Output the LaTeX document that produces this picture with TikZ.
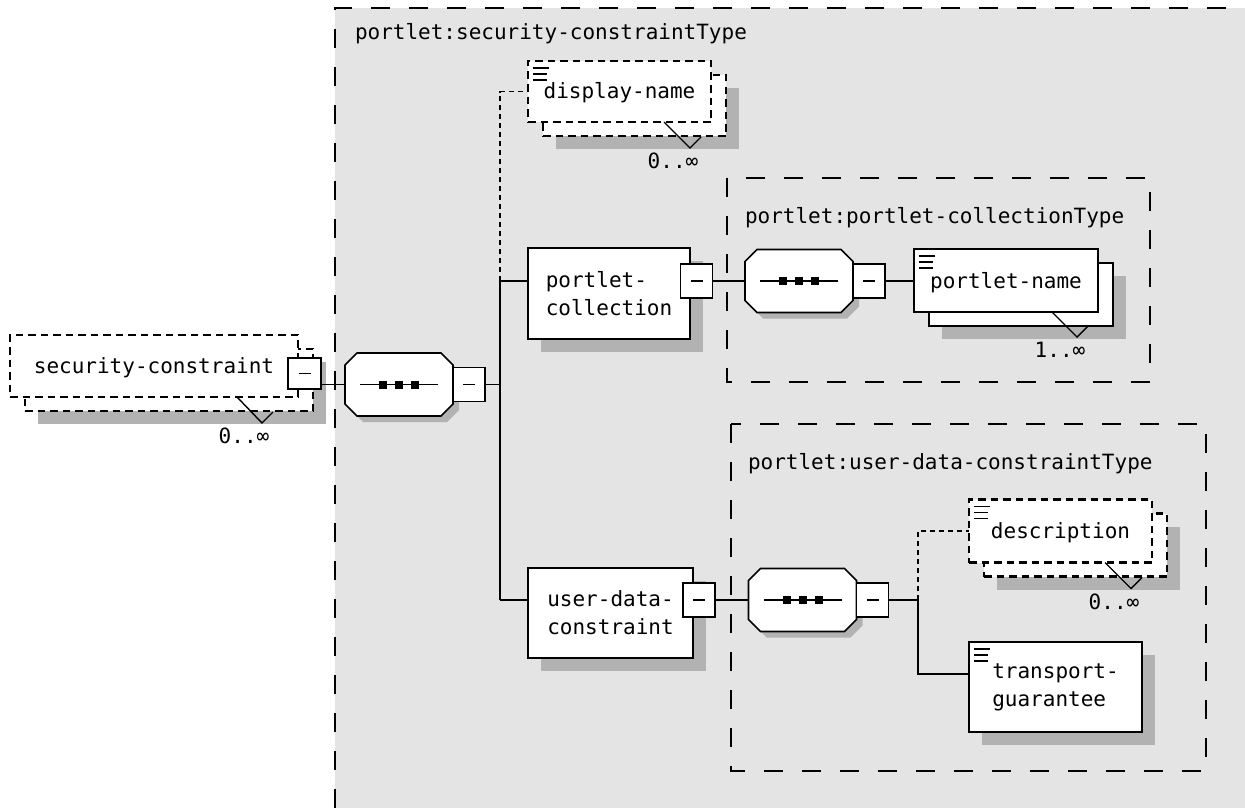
\documentclass[tikz,border=0pt]{standalone}
\usepackage{fontspec}
\newfontfamily\diagfont{DejaVu Sans Mono}
\usetikzlibrary{calc,shadows}
\definecolor{typefill}{HTML}{E4E4E4}
\definecolor{shadegray}{HTML}{B2B2B2}
\tikzset{
  every node/.style={font=\diagfont\fontsize{21pt}{28pt}\selectfont, inner sep=0pt, outer sep=0pt},
  typeline/.style={line width=1.6pt, dash pattern=on 19pt off 19pt},
  typetitle/.style={anchor=base west},
  boxshadow/.style={drop shadow={shadow xshift=13pt, shadow yshift=-13pt, fill=shadegray, opacity=1}},
  elembox/.style={draw, line width=2.4pt, fill=white, align=left},
  optbox/.style={draw, line width=2.8pt, fill=white, dash pattern=on 7.5pt off 5pt, text height=20pt, text depth=5pt},
  onelinebox/.style={text height=20pt, text depth=5pt},
  minusbox/.style={draw, fill=white, line width=1.5pt, minimum width=32pt, minimum height=34pt,
    path picture={\draw[line width=1.4pt] ([xshift=-6pt]path picture bounding box.center) -- ([xshift=6pt]path picture bounding box.center);}},
  seqbox/.style={minimum width=108pt, minimum height=63pt},
  conn/.style={line width=1.5pt},
  optconn/.style={line width=1.4pt, dash pattern=on 5pt off 4pt},
  multline/.style={line width=1.4pt},
  multlabel/.style={anchor=base},
}
% sequence compositor: octagon with shadow and three dots on a line
\newcommand\seqshape[1]{%
  \fill[shadegray] ([shift={(6pt,-6pt)}]#1.center) ++(-42,-31.5) -- ++(84,0) -- ++(12,12) -- ++(0,39) -- ++(-12,12) -- ++(-84,0) -- ++(-12,-12) -- ++(0,-39) -- cycle;
  \draw[line width=1.6pt, fill=white] (#1.center) ++(-42,-31.5) -- ++(84,0) -- ++(12,12) -- ++(0,39) -- ++(-12,12) -- ++(-84,0) -- ++(-12,-12) -- ++(0,-39) -- cycle;
  \draw[line width=1.4pt] (#1.center) ++(-39,0) -- ++(78,0);
  \fill (#1.center) ++(-20,-4) rectangle ++(8,8);
  \fill (#1.center) ++(-4,-4) rectangle ++(8,8);
  \fill (#1.center) ++(12,-4) rectangle ++(8,8);
}
% simple-content marker in the top left corner of an element
\newcommand\simpleicon[1]{%
  \draw[line width=1.4pt] ([shift={(5pt,-7pt)}]#1.north west) -- ++(16,0)
    ([shift={(5pt,-13pt)}]#1.north west) -- ++(14,0)
    ([shift={(5pt,-19pt)}]#1.north west) -- ++(14,0);
}
\begin{document}
\begin{tikzpicture}[x=1pt,y=-1pt]
\useasboundingbox (0,0) rectangle (1245,808);

% complex type areas
\fill[typefill] (335,8) rectangle (1245,808);
\draw[typeline] (335,808) -- (335,8) -- (1245,8);
\node[typetitle] (sctitle) at (355,40) {portlet:security-constraintType};
\draw[typeline] (727,178) rectangle (1150,382);
\node[typetitle] (pctitle) at (745,223) {portlet:portlet-collectionType};
\draw[typeline] (731,424) rectangle (1206,771);
\node[typetitle] (udctitle) at (748,469) {portlet:user-data-constraintType};

% security-constraint
\node[optbox, boxshadow, minimum width=288pt, minimum height=62pt] (scback) at (169,380) {};
\node[optbox, minimum width=288pt, minimum height=62pt] (sc) at (154,366) {security-constraint};
\node[minusbox, minimum width=33pt, minimum height=31pt] (scm) at (304.5,373.5) {};

% main sequence
\node[seqbox] (mc) at (399,384.5) {};
\seqshape{mc}
\node[minusbox] (mcm) at (469,384.5) {};

% display-name
\node[optbox, boxshadow, minimum width=183pt, minimum height=61pt] (dnback) at (634.5,105.5) {};
\node[optbox, minimum width=183pt, minimum height=61pt] (dn) at (619.5,91.5) {display-name};
\simpleicon{dn}

% portlet-collection
\node[elembox, boxshadow, minimum width=162pt, minimum height=91pt] (pc) at (609,293.5) {portlet-\\collection};
\node[minusbox] (pcm) at (696.5,281) {};
\node[seqbox] (pcc) at (799,281) {};
\seqshape{pcc}
\node[minusbox] (pccm) at (869,281) {};

% portlet-name
\node[elembox, boxshadow, minimum width=184pt, minimum height=63pt] (pnback) at (1021,294.5) {};
\node[elembox, onelinebox, minimum width=184pt, minimum height=63pt] (pn) at (1006,280.5) {portlet-name};
\simpleicon{pn}

% user-data-constraint
\node[elembox, boxshadow, minimum width=165pt, minimum height=90pt] (udc) at (610.5,613) {user-data-\\constraint};
\node[minusbox] (udcm) at (699,600) {};
\node[seqbox] (udcc) at (802.5,600) {};
\seqshape{udcc}
\node[minusbox] (udccm) at (872.5,600) {};

% description
\node[optbox, boxshadow, minimum width=183pt, minimum height=63pt] (descback) at (1075.5,545) {};
\node[optbox, minimum width=183pt, minimum height=63pt] (desc) at (1060.5,531) {description};
\simpleicon{desc}

% transport-guarantee
\node[elembox, boxshadow, minimum width=173pt, minimum height=90pt] (tg) at (1055.5,687) {transport-\\guarantee};
\simpleicon{tg}

% junctions
\coordinate (jmain) at (500,384.5);
\coordinate (jpc) at (500,281);
\coordinate (judc) at (500,600);
\coordinate (jud) at (918,600);

% connectors
\draw[conn] (scm.east |- mc.west) -- (mc.west);
\draw[conn] (mcm.east) -- (jmain);
\draw[conn] (jpc) -- (judc);
\draw[conn] (jpc) -- (pc.west |- jpc);
\draw[conn] (judc) -- (udc.west |- judc);
\draw[optconn] (jpc) |- (dn.west);
\draw[conn] (pcm.east) -- (pcc.west);
\draw[conn] (pccm.east) -- (pn.west |- pccm);
\draw[conn] (udcm.east) -- (udcc.west);
\draw[conn] (udccm.east) -- (jud);
\draw[optconn] (jud) |- (desc.west);
\draw[conn] (jud) |- ([yshift=13pt]tg.west);

% occurrence marks
\draw[multline] ([xshift=-61pt]sc.south east) -- ++(25,26) coordinate (scmult) -- ++(11,-11);
\node[multlabel] (scocc) at ([shift={(-18pt,-20pt)}]scmult) {0..∞};
\draw[multline] ([xshift=-47pt]dn.south east) -- ++(26,26) coordinate (dnmult) -- ++(11,-11);
\node[multlabel] (dnocc) at ([shift={(-17pt,-20pt)}]dnmult) {0..∞};
\draw[multline] ([xshift=-46pt]pn.south east) -- ++(25,25) coordinate (pnmult) -- ++(11,-11);
\node[multlabel] (pnocc) at ([shift={(-17pt,-20pt)}]pnmult) {1..∞};
\draw[multline] ([xshift=-47pt]desc.south east) -- ++(26,26) coordinate (descmult) -- ++(11,-11);
\node[multlabel] (descocc) at ([shift={(-17pt,-21pt)}]descmult) {0..∞};
\end{tikzpicture}
\end{document}
